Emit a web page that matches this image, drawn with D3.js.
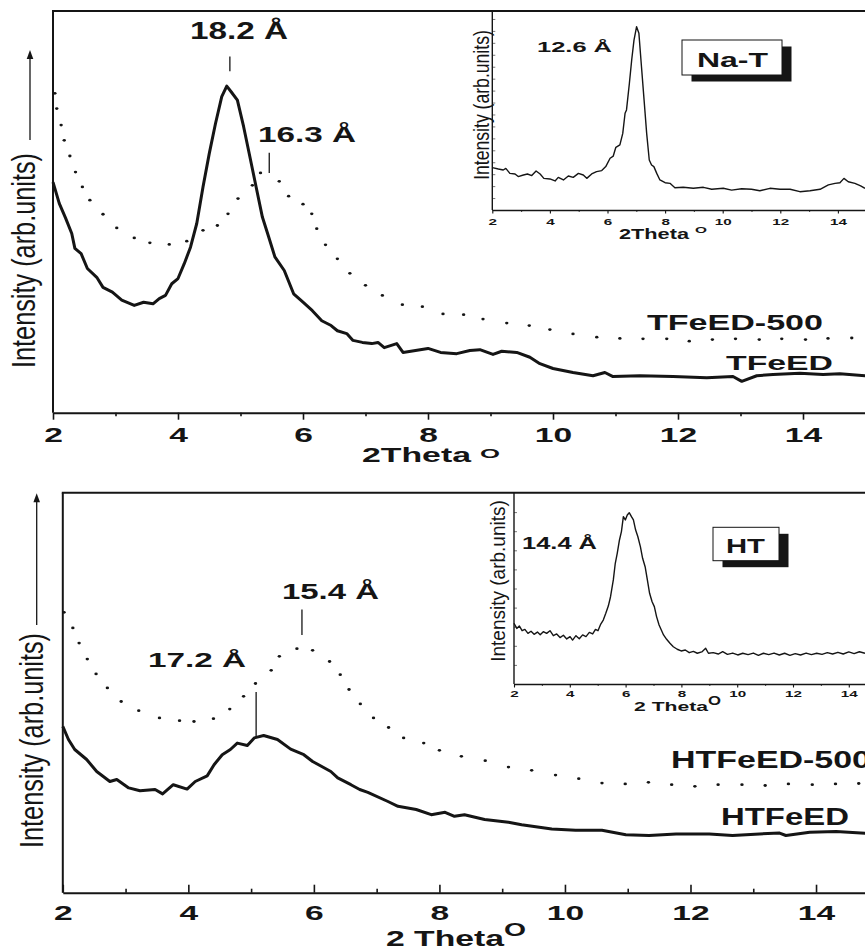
<!DOCTYPE html>
<html>
<head>
<meta charset="utf-8">
<script src="https://cdn.jsdelivr.net/npm/d3@7"></script>
<style>
body { margin: 0; background: #fff; }
svg { display: block; font-family: "Liberation Sans", Arial, sans-serif; }
</style>
</head>
<body>
<svg id="chart" width="865" height="951"></svg>
<script>
// ---- data (2Theta in degrees, intensity in arb. units 0..100) ----
const majorTicks = [2, 4, 6, 8, 10, 12, 14]
const minorTicks = [3, 5, 7, 9, 11, 13, 15]

// top panel: TFeED (solid) and TFeED-500 (dotted)
const tfeedX = [2.0, 2.1, 2.2, 2.3, 2.35, 2.45, 2.55, 2.7, 2.8, 2.95, 3.1, 3.3, 3.45, 3.6, 3.7, 3.8, 3.9, 4.0, 4.1, 4.2, 4.3, 4.4, 4.5, 4.6, 4.7, 4.78, 4.85, 4.95, 5.05, 5.15, 5.25, 5.35, 5.45, 5.55, 5.7, 5.85, 6.0, 6.15, 6.3, 6.45, 6.55, 6.7, 6.8, 6.95, 7.1, 7.2, 7.3, 7.5, 7.6, 7.8, 8.0, 8.2, 8.46, 8.67, 8.83, 9.04, 9.18, 9.42, 9.63, 9.79, 10.0, 10.32, 10.64, 10.83, 10.96, 11.39, 11.92, 12.46, 12.88, 13.02, 13.26, 13.52, 13.95, 14.32, 14.59, 15.0]
const tfeedY = [57.4, 52.1, 48.5, 44.6, 40.9, 39.6, 35.9, 33.7, 31.2, 30.0, 28.0, 26.7, 27.5, 27.1, 28.4, 29.2, 32.1, 33.4, 37.1, 41.2, 47.1, 56.2, 64.5, 72.0, 78.7, 81.3, 79.9, 77.8, 71.2, 63.7, 56.2, 48.7, 43.8, 38.8, 35.4, 29.6, 27.5, 25.4, 22.9, 21.7, 20.4, 19.7, 18.0, 17.5, 17.2, 17.5, 16.2, 17.2, 15.0, 15.5, 16.0, 15.0, 14.7, 15.5, 15.7, 14.5, 15.3, 15.0, 13.8, 12.2, 11.0, 10.0, 9.2, 10.0, 9.0, 9.2, 9.0, 8.7, 9.0, 7.8, 9.2, 9.5, 9.8, 9.5, 9.7, 9.2]
const tfeed500X = [2.03, 2.06, 2.13, 2.18, 2.27, 2.36, 2.47, 2.59, 2.8, 3.02, 3.3, 3.55, 3.86, 4.14, 4.4, 4.63, 4.8, 4.96, 5.19, 5.32, 5.62, 5.77, 6.0, 6.14, 6.22, 6.36, 6.55, 6.75, 7.0, 7.27, 7.59, 7.91, 8.24, 8.57, 8.88, 9.26, 9.62, 9.95, 10.32, 10.7, 11.07, 11.44, 11.82, 12.18, 12.55, 12.92, 13.3, 13.66, 14.04, 14.4, 14.78]
const tfeed500Y = [79.5, 75.7, 71.6, 67.8, 63.9, 59.9, 56.2, 52.9, 49.4, 46.0, 43.5, 42.3, 41.9, 42.7, 45.4, 46.6, 49.5, 53.3, 56.6, 59.7, 57.6, 53.9, 51.9, 49.5, 45.8, 41.8, 38.3, 34.7, 31.7, 29.2, 26.9, 26.4, 24.6, 24.4, 23.3, 22.3, 21.7, 20.7, 19.6, 18.8, 18.5, 18.4, 18.4, 17.8, 18.2, 18.4, 18.2, 18.4, 18.2, 18.5, 18.6]

// top inset: Na-T
const natX = [2.0, 2.21, 2.38, 2.47, 2.61, 2.79, 2.9, 3.08, 3.22, 3.37, 3.52, 3.66, 3.79, 4.0, 4.18, 4.29, 4.47, 4.64, 4.81, 4.99, 5.16, 5.28, 5.45, 5.62, 5.8, 5.94, 6.09, 6.2, 6.29, 6.43, 6.53, 6.61, 6.66, 6.76, 6.84, 6.92, 7.01, 7.09, 7.18, 7.27, 7.36, 7.45, 7.53, 7.61, 7.71, 7.82, 8.0, 8.17, 8.34, 8.63, 8.98, 9.33, 9.62, 10.02, 10.31, 10.66, 11.0, 11.29, 11.64, 11.99, 12.34, 12.68, 13.03, 13.38, 13.67, 13.9, 14.07, 14.21, 14.36, 14.59, 14.79, 14.94]
const natY = [21.3, 20.6, 20.1, 20.9, 18.4, 18.1, 16.8, 17.6, 18.1, 17.3, 19.6, 18.1, 15.9, 15.6, 14.6, 16.4, 15.1, 17.1, 16.4, 18.4, 17.6, 15.9, 18.1, 19.3, 19.8, 21.8, 26.0, 27.1, 31.5, 32.7, 38.5, 48.6, 50.3, 63.7, 75.4, 85.4, 92.1, 88.8, 72.0, 55.3, 38.5, 25.1, 22.6, 21.8, 18.4, 15.1, 13.7, 13.4, 11.2, 11.4, 10.9, 11.4, 10.4, 10.9, 10.0, 10.7, 10.4, 9.7, 10.9, 10.4, 10.4, 9.2, 9.7, 10.4, 12.6, 13.4, 13.7, 15.9, 14.2, 13.4, 12.1, 10.9]

// bottom panel: HTFeED (solid) and HTFeED-500 (dotted)
const htfeedX = [2.0, 2.09, 2.19, 2.38, 2.54, 2.75, 2.86, 3.05, 3.23, 3.47, 3.59, 3.76, 3.98, 4.11, 4.3, 4.41, 4.54, 4.67, 4.78, 4.94, 5.05, 5.2, 5.42, 5.63, 5.84, 5.98, 6.27, 6.38, 6.59, 6.73, 6.86, 7.18, 7.34, 7.63, 7.87, 8.09, 8.24, 8.4, 8.72, 9.1, 9.31, 9.79, 10.17, 10.59, 10.97, 11.34, 11.77, 12.3, 12.67, 13.1, 13.42, 13.52, 13.9, 14.32, 14.83, 15.0]
const htfeedY = [41.6, 38.3, 35.8, 33.3, 30.3, 27.8, 28.3, 26.2, 25.5, 25.8, 24.7, 27.0, 25.9, 27.8, 29.2, 32.0, 34.5, 35.8, 37.4, 36.8, 38.7, 39.3, 38.3, 35.9, 34.5, 32.8, 30.3, 28.7, 27.0, 25.8, 25.1, 22.8, 21.6, 20.8, 19.5, 20.1, 19.1, 19.5, 18.3, 17.6, 17.0, 15.9, 15.6, 15.6, 14.5, 14.3, 14.7, 14.7, 14.3, 14.7, 14.9, 14.3, 15.1, 15.3, 14.8, 14.6]
const htfeed500X = [2.02, 2.16, 2.26, 2.39, 2.53, 2.71, 2.93, 3.21, 3.54, 3.86, 4.09, 4.4, 4.66, 4.88, 5.07, 5.32, 5.45, 5.73, 5.98, 6.25, 6.42, 6.56, 6.74, 6.95, 7.19, 7.43, 7.75, 8.0, 8.35, 8.73, 9.1, 9.47, 9.85, 10.22, 10.59, 10.96, 11.33, 11.7, 12.07, 12.44, 12.82, 13.19, 13.56, 13.94, 14.31, 14.68]
const htfeed500Y = [70.1, 66.2, 62.4, 58.4, 54.7, 51.2, 47.8, 45.5, 43.7, 43.0, 42.8, 43.5, 45.9, 49.1, 52.3, 55.6, 59.1, 61.0, 60.6, 57.8, 54.5, 50.8, 47.2, 43.7, 41.3, 38.7, 37.4, 35.6, 34.1, 33.0, 31.4, 30.6, 29.4, 28.5, 27.4, 27.2, 27.6, 27.0, 26.6, 27.0, 27.0, 26.8, 27.2, 27.0, 27.2, 27.3]

// bottom inset: HT
const htX = [2.0, 2.1, 2.19, 2.29, 2.39, 2.5, 2.61, 2.72, 2.84, 2.94, 3.05, 3.17, 3.29, 3.41, 3.53, 3.65, 3.77, 3.89, 4.01, 4.1, 4.22, 4.34, 4.46, 4.58, 4.7, 4.82, 4.92, 5.01, 5.11, 5.2, 5.29, 5.38, 5.46, 5.56, 5.63, 5.7, 5.78, 5.85, 5.92, 5.99, 6.06, 6.13, 6.21, 6.28, 6.36, 6.44, 6.53, 6.61, 6.7, 6.78, 6.86, 6.95, 7.03, 7.11, 7.2, 7.28, 7.36, 7.47, 7.59, 7.71, 7.85, 7.99, 8.14, 8.28, 8.43, 8.57, 8.73, 8.87, 8.97, 9.14, 9.32, 9.48, 9.65, 9.84, 10.02, 10.2, 10.39, 10.58, 10.76, 10.94, 11.13, 11.32, 11.51, 11.7, 11.89, 12.08, 12.27, 12.47, 12.66, 12.85, 13.04, 13.23, 13.42, 13.61, 13.8, 14.0, 14.19, 14.38, 14.58]
const htY = [31.8, 29.1, 30.4, 27.9, 28.6, 26.5, 27.6, 26.0, 27.2, 25.8, 27.4, 26.5, 27.9, 25.3, 26.2, 24.3, 25.5, 23.6, 24.8, 23.0, 25.3, 23.7, 25.7, 24.8, 27.0, 26.2, 28.6, 27.9, 31.4, 33.5, 37.0, 40.8, 45.7, 54.5, 63.2, 68.4, 75.4, 79.8, 87.6, 85.9, 88.5, 89.7, 87.6, 85.9, 80.6, 77.1, 71.9, 65.8, 61.4, 54.5, 47.5, 43.1, 40.5, 35.3, 30.9, 28.3, 25.7, 23.4, 21.3, 19.5, 18.2, 17.3, 17.8, 16.4, 17.1, 16.1, 16.8, 18.7, 16.1, 16.4, 15.7, 16.9, 15.5, 16.2, 15.2, 16.1, 15.4, 16.2, 15.0, 16.1, 15.4, 16.2, 15.2, 16.1, 15.0, 15.9, 15.2, 16.2, 15.4, 16.1, 15.5, 16.4, 15.7, 16.6, 15.7, 16.8, 15.9, 16.9, 16.1]

// peak markers: [2Theta, intensity from, intensity to]
const topMarks = [[4.83, 85.0, 88.7], [5.46, 59.7, 64.7]]
const bottomMarks = [[5.81, 64.4, 70.8], [5.08, 39.0, 50.2]]

// ---- drawing ----
const svg = d3.select("#chart")
const ink = "#151515"

const pts = (xs, ys) => xs.map((x, i) => ({ x: x, y: ys[i] }))

// text squeezed/stretched horizontally to match the (widened) original figure
function wideText(g, str, x, y, size, width, weight) {
    return g.append("text")
        .attr("x", x).attr("y", y)
        .attr("font-size", size)
        .attr("font-weight", weight || "bold")
        .attr("fill", ink)
        .attr("textLength", width)
        .attr("lengthAdjust", "spacingAndGlyphs")
        .text(str)
}

function yLabel(g, x, cy, size, sx) {
    g.append("text")
        .attr("transform", `translate(${x},${cy}) scale(${sx},1) rotate(-90)`)
        .attr("text-anchor", "middle")
        .attr("font-size", size)
        .attr("fill", ink)
        .text("Intensity (arb.units)")
}

function arrow(g, x, yTop, yBottom) {
    g.append("line").attr("x1", x).attr("x2", x).attr("y1", yBottom).attr("y2", yTop + 8)
        .attr("stroke", ink).attr("stroke-width", 1.3)
    g.append("path").attr("d", `M${x},${yTop} L${x - 3.3},${yTop + 9} L${x + 3.3},${yTop + 9} Z`)
        .attr("fill", ink)
}

function xAxis(g, scX, y, ticks, width, labelSize, labelOffset, labelStretch) {
    let major = g.append("g").attr("transform", `translate(0,${y})`)
        .call(d3.axisBottom(scX).tickValues(majorTicks).tickSize(ticks).tickSizeOuter(0).tickFormat(d3.format("d")))
    major.select(".domain").attr("stroke", ink).attr("stroke-width", width)
    major.selectAll(".tick line").attr("stroke", ink).attr("stroke-width", width * 0.8)
    major.selectAll(".tick text")
        .attr("y", labelOffset).attr("dy", 0)
        .attr("font-size", labelSize).attr("font-weight", "bold")
        .attr("font-family", "Liberation Sans, Arial, sans-serif")
        .attr("fill", ink)
        .attr("transform", `scale(${labelStretch},1)`)
    let minor = g.append("g").attr("transform", `translate(0,${y})`)
        .call(d3.axisBottom(scX).tickValues(minorTicks).tickSize(ticks / 2).tickFormat(""))
    minor.select(".domain").remove()
    minor.selectAll(".tick line").attr("stroke", ink).attr("stroke-width", width * 0.8)
}

function solid(g, data, scX, scY, width) {
    let lnMkr = d3.line().x(d => scX(d.x)).y(d => scY(d.y))
    g.append("path").datum(data)
        .attr("d", lnMkr)
        .attr("fill", "none").attr("stroke", ink)
        .attr("stroke-width", width).attr("stroke-linejoin", "round")
}

function dotted(g, data, scX, scY) {
    g.selectAll(null).data(data).enter().append("ellipse")
        .attr("cx", d => scX(d.x)).attr("cy", d => scY(d.y))
        .attr("rx", 1.7).attr("ry", 1.4)
        .attr("fill", ink)
}

function markers(g, marks, scX, scY) {
    g.selectAll(null).data(marks).enter().append("line")
        .attr("x1", d => scX(d[0])).attr("x2", d => scX(d[0]))
        .attr("y1", d => scY(d[1])).attr("y2", d => scY(d[2]))
        .attr("stroke", ink).attr("stroke-width", 1.3)
}

function frame(g, scX, scY, width) {
    let [x0] = scX.range(), [yb, yt] = scY.range()
    g.append("line").attr("x1", x0).attr("x2", x0).attr("y1", yb).attr("y2", yt)
        .attr("stroke", ink).attr("stroke-width", width)
    g.append("line").attr("x1", x0 - width / 2).attr("x2", 865).attr("y1", yt).attr("y2", yt)
        .attr("stroke", ink).attr("stroke-width", width)
}

function inset(g, scX, scY, data, yStep, labelOffset) {
    let [x0] = scX.range(), [yb, yt] = scY.range()
    let left = g.append("g").attr("transform", `translate(${x0},0)`)
        .call(d3.axisLeft(scY).tickValues(d3.range(0, 100, yStep)).tickSize(-3).tickFormat(""))
    left.select(".domain").remove()
    left.selectAll(".tick line").attr("stroke", "#555").attr("stroke-width", 0.8)
    g.append("line").attr("x1", x0).attr("x2", x0).attr("y1", yb).attr("y2", yt)
        .attr("stroke", ink).attr("stroke-width", 1.4)
    xAxis(g, scX, yb, 3.5, 1.4, 9.5, labelOffset, 1.6)
    solid(g, data, scX, scY, 1.4)
}

function shadowBox(g, x, y, w, h, str, size, tx, tw) {
    g.append("rect").attr("x", x + 9.5).attr("y", y + 6.5).attr("width", w).attr("height", h).attr("fill", ink)
    g.append("rect").attr("x", x).attr("y", y).attr("width", w).attr("height", h)
        .attr("fill", "#fff").attr("stroke", ink).attr("stroke-width", 1)
    wideText(g, str, tx, y + h * 0.78, size, tw)
}

// ---------- top panel ----------
{
    let g = svg.append("g")
    let scX = d3.scaleLinear().domain([2, 15]).range([53, 865.5])
    let scY = d3.scaleLinear().domain([0, 100]).range([412.7, 11])

    frame(g, scX, scY, 2)
    xAxis(g, scX, 412.7, 7, 2, 21, 29, 1.6)
    dotted(g, pts(tfeed500X, tfeed500Y), scX, scY)
    solid(g, pts(tfeedX, tfeedY), scX, scY, 3)
    markers(g, topMarks, scX, scY)

    wideText(g, "18.2 Å", 190, 38.5, 23, 98)
    wideText(g, "16.3 Å", 258, 141.5, 22, 98)
    wideText(g, "TFeED-500", 647, 330, 22, 176)
    wideText(g, "TFeED", 726, 370, 21, 107)
    wideText(g, "2Theta", 362, 461.5, 20, 109)
    wideText(g, "O", 480, 458, 12.5, 20)

    yLabel(g, 35, 260.5, 25.3, 1.29)
    arrow(g, 30, 50, 140)

    // Na-T inset
    let inX = d3.scaleLinear().domain([2, 15]).range([492.3, 866.7])
    let inY = d3.scaleLinear().domain([0, 100]).range([210, 11])
    inset(g, inX, inY, pts(natX, natY), 6, 15)
    wideText(g, "12.6 Å", 537, 51.7, 15.5, 75)
    shadowBox(g, 682, 40, 100, 35, "Na-T", 21, 697, 71)
    wideText(g, "2Theta", 619, 239.3, 15, 70)
    wideText(g, "O", 695, 233.3, 9, 12)
    yLabel(g, 489, 105, 17.6, 1.3)
}

// ---------- bottom panel ----------
{
    let g = svg.append("g")
    let scX = d3.scaleLinear().domain([2, 15]).range([62.8, 878.8])
    let scY = d3.scaleLinear().domain([0, 100]).range([892.7, 492.7])

    frame(g, scX, scY, 2)
    xAxis(g, scX, 892.7, -8, 2, 21, 27.5, 1.6)
    dotted(g, pts(htfeed500X, htfeed500Y), scX, scY)
    solid(g, pts(htfeedX, htfeedY), scX, scY, 3)
    markers(g, bottomMarks, scX, scY)

    wideText(g, "15.4 Å", 282, 599, 21.5, 97)
    wideText(g, "17.2 Å", 148, 667, 21, 98)
    wideText(g, "HTFeED-500", 671, 768, 23, 200)
    wideText(g, "HTFeED", 721, 825, 23, 128)
    wideText(g, "2 Theta", 386, 945.5, 22, 118)
    wideText(g, "O", 504, 936, 19, 22)

    yLabel(g, 43, 740.5, 25.3, 1.29)
    arrow(g, 36.7, 493.3, 625)

    // HT inset
    let inX = d3.scaleLinear().domain([2, 15]).range([514, 876.7])
    let inY = d3.scaleLinear().domain([0, 100]).range([684, 493])
    inset(g, inX, inY, pts(htX, htY), 10, 13.5)
    wideText(g, "14.4 Å", 522, 549, 17, 75)
    shadowBox(g, 713, 527.3, 66, 33.4, "HT", 21, 726, 39)
    wideText(g, "2 Theta", 634, 711, 13.5, 74)
    wideText(g, "O", 708, 705, 12, 13)
    yLabel(g, 505, 581, 19, 1.1)
}
</script>
</body>
</html>
